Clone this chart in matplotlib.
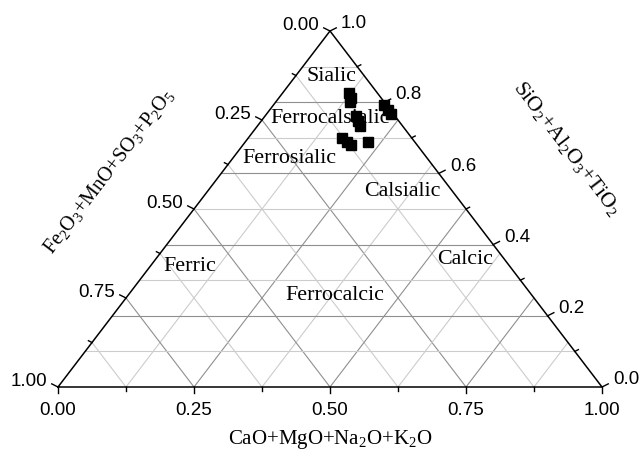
import numpy as np
import matplotlib
matplotlib.use('Agg')
import matplotlib.pyplot as plt

# composizione normalizzata (frazioni): SiO2+Al2O3+TiO2, CaO+MgO+Na2O+K2O, Fe2O3+MnO+SO3+P2O5
sial = [0.826, 0.812, 0.801, 0.792, 0.778, 0.767, 0.761, 0.747, 0.733, 0.699, 0.688, 0.680, 0.688]
calc = [0.122, 0.133, 0.137, 0.203, 0.217, 0.228, 0.167, 0.178, 0.188, 0.172, 0.187, 0.199, 0.226]
ferr = [0.052, 0.055, 0.062, 0.005, 0.005, 0.005, 0.072, 0.075, 0.079, 0.129, 0.125, 0.121, 0.086]

campi = ['Sialic', 'Ferrocalsialic', 'Ferrosialic', 'Calsialic', 'Ferric', 'Calcic', 'Ferrocalcic']
campi_calc = [0.065, 0.121, 0.103, 0.357, 0.073, 0.568, 0.379]
campi_sial = [0.874, 0.758, 0.646, 0.551, 0.340, 0.360, 0.261]

tick_basso = [0.00, 0.25, 0.50, 0.75, 1.00]
tick_sx = [0.00, 0.25, 0.50, 0.75, 1.00]
tick_dx = [0.0, 0.2, 0.4, 0.6, 0.8, 1.0]

SERIF = 'Liberation Serif'
SANS = 'Liberation Sans'


def xy(c, s):
    # coordinate cartesiane: Ca sull'asse x, Si in altezza
    c = np.asarray(c, float)
    s = np.asarray(s, float)
    return c + s / 2.0, s


fig = plt.figure(figsize=(6.42, 4.56), dpi=100)
ax = fig.add_axes([58 / 642, 68 / 456, 544 / 642, 356 / 456])
ax.set_xlim(0, 1)
ax.set_ylim(0, 1)
ax.axis('off')

# pixel per unita' di dato, per disegnare tacche di lunghezza fissa
px_x = fig.get_figwidth() * fig.dpi * ax.get_position().width
px_y = fig.get_figheight() * fig.dpi * ax.get_position().height

# griglia
for v in np.arange(1, 8) / 8.0:
    col = '#8f8f8f' if v in (0.25, 0.5, 0.75) else '#cccccc'
    # Ca costante (parallele al lato sinistro)
    x, y = xy([v, v], [0, 1 - v])
    ax.plot(x, y, color=col, lw=0.8, zorder=1)
    # Fe costante (parallele al lato destro)
    x, y = xy([1 - v, 0], [0, 1 - v])
    ax.plot(x, y, color=col, lw=0.8, zorder=1)
for v in np.arange(1, 10) / 10.0:
    col = '#8f8f8f' if round(v * 10) % 2 == 0 else '#cccccc'
    x, y = xy([0, 1 - v], [v, v])
    ax.plot(x, y, color=col, lw=0.8, zorder=1)

# lati del triangolo
x, y = xy([0, 1, 0, 0], [0, 0, 1, 0])
ax.plot(x, y, color='black', lw=1.1, zorder=3, clip_on=False)


def tacca(x0, y0, dx, dy, lung):
    n = np.hypot(dx, dy)
    ax.plot([x0, x0 + dx / n * lung / px_x], [y0, y0 - dy / n * lung / px_y],
            color='black', lw=1.0, clip_on=False, zorder=3)


# asse inferiore
for v in np.arange(0, 9) / 8.0:
    x, y = xy(v, 0)
    tacca(x, y, 0, 1, 6 if v in tick_basso else 4)
for v in tick_basso:
    x, y = xy(v, 0)
    ax.annotate(f'{v:.2f}', (x, y), xytext=(0, -10), textcoords='offset points',
                ha='center', va='top', fontsize=13.5, family=SANS)

# asse sinistro (Fe, 0 in alto)
for v in np.arange(0, 9) / 8.0:
    x, y = xy(0, 1 - v)
    tacca(x, y, -2, -1, 7 if v in tick_sx else 4)
for v in tick_sx:
    x, y = xy(0, 1 - v)
    ax.annotate(f'{v:.2f}', (x, y), xytext=(-8, 5), textcoords='offset points',
                ha='right', va='center', fontsize=13.5, family=SANS)

# asse destro (Si, 0 in basso)
for v in np.arange(0, 11) / 10.0:
    x, y = xy(1 - v, v)
    tacca(x, y, 2, -1, 7 if round(v * 10) % 2 == 0 else 4)
for v in tick_dx:
    x, y = xy(1 - v, v)
    ax.annotate(f'{v:.1f}', (x, y), xytext=(8, 6), textcoords='offset points',
                ha='left', va='center', fontsize=13.5, family=SANS)

# campioni
px, py = xy(calc, sial)
ax.plot(px, py, 's', color='black', ms=6.5, zorder=4, clip_on=False)

# campi classificativi
for nome, c, s in zip(campi, campi_calc, campi_sial):
    x, y = xy(c, s)
    ax.text(x, y, nome, ha='center', va='center', fontsize=15.8, family=SERIF, zorder=2)

# titoli degli assi
fig.text(330 / 642, 1 - 440 / 456,
         r'CaO+MgO+Na$\mathregular{_2}$O+K$\mathregular{_2}$O',
         ha='center', va='center', fontsize=15, family=SERIF)
fig.text(109 / 642, 1 - 171 / 456,
         r'Fe$\mathregular{_2}$O$\mathregular{_3}$+MnO+SO$\mathregular{_3}$+P$\mathregular{_2}$O$\mathregular{_5}$',
         ha='center', va='center', fontsize=14.5, family=SERIF, rotation=52.6,
         rotation_mode='anchor')
fig.text(567 / 642, 1 - 148 / 456,
         r'SiO$\mathregular{_2}$+Al$\mathregular{_2}$O$\mathregular{_3}$+TiO$\mathregular{_2}$',
         ha='center', va='center', fontsize=15.5, family=SERIF, rotation=-52.6,
         rotation_mode='anchor')

fig.savefig('out.png', dpi=100)
